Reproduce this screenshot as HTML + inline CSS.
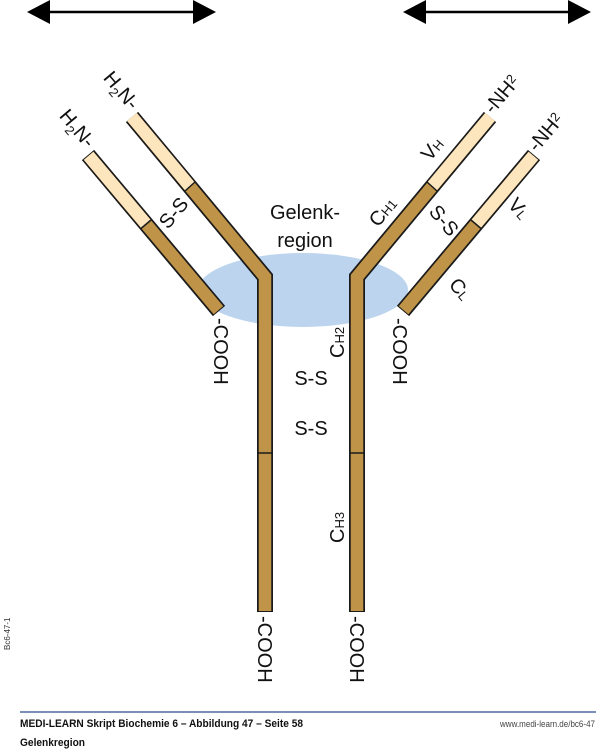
<!DOCTYPE html>
<html><head><meta charset="utf-8"><style>
html,body{margin:0;padding:0;background:#fff;}
svg{display:block;font-family:"Liberation Sans",sans-serif;}
</style></head><body>
<svg width="600" height="752" viewBox="0 0 600 752">
<!-- arrows -->
<line x1="40" y1="12" x2="200" y2="12" stroke="#000" stroke-width="2.5"/>
<polygon points="27,12 50,0 50,24" fill="#000"/>
<polygon points="216,12 193,0 193,24" fill="#000"/>
<line x1="415" y1="12" x2="578" y2="12" stroke="#000" stroke-width="2.5"/>
<polygon points="403,12 426,0 426,24" fill="#000"/>
<polygon points="591,12 568,0 568,24" fill="#000"/>
<!-- ellipse -->
<ellipse cx="303" cy="290" rx="105" ry="37" fill="#bcd4ee"/>
<!-- heavy chains -->
<g stroke-linejoin="miter" stroke-linecap="butt" fill="none">
<polyline points="132,117 265,277 265,612" stroke="#1a1a1a" stroke-width="16"/>
<polyline points="132,117 265,277 265,611" stroke="#c09448" stroke-width="12.5"/>
<line x1="132" y1="117" x2="190" y2="186.5" stroke="#fde5bd" stroke-width="12.5"/>
<polyline points="490,117 357,277 357,612" stroke="#1a1a1a" stroke-width="16"/>
<polyline points="490,117 357,277 357,611" stroke="#c09448" stroke-width="12.5"/>
<line x1="490" y1="117" x2="432" y2="186.5" stroke="#fde5bd" stroke-width="12.5"/>
<!-- light chains -->
<line x1="88" y1="155" x2="219" y2="311" stroke="#1a1a1a" stroke-width="16"/>
<line x1="88.6" y1="155.8" x2="218.4" y2="310.2" stroke="#c09448" stroke-width="12.5"/>
<line x1="88.6" y1="155.8" x2="146" y2="224" stroke="#fde5bd" stroke-width="12.5"/>
<line x1="534" y1="155" x2="403" y2="311" stroke="#1a1a1a" stroke-width="16"/>
<line x1="533.4" y1="155.8" x2="403.6" y2="310.2" stroke="#c09448" stroke-width="12.5"/>
<line x1="533.4" y1="155.8" x2="476" y2="224" stroke="#fde5bd" stroke-width="12.5"/>
</g>
<g stroke="#1a1a1a" stroke-width="1.5">
<line x1="258" y1="453" x2="272" y2="453"/>
<line x1="350" y1="453" x2="364" y2="453"/>
<line x1="185" y1="191" x2="195" y2="182"/>
<line x1="437" y1="191" x2="427" y2="182"/>
<line x1="141" y1="228.5" x2="151" y2="220"/>
<line x1="481" y1="228.5" x2="471" y2="220"/>
</g>
<!-- labels -->
<g font-size="20" fill="#111">
<text x="305" y="219" text-anchor="middle">Gelenk-</text>
<text x="305" y="247" text-anchor="middle">region</text>
<text x="311" y="385" text-anchor="middle">S-S</text>
<text x="311" y="435" text-anchor="middle">S-S</text>
<text transform="translate(344,358) rotate(-90)">C<tspan font-size="13">H2</tspan></text>
<text transform="translate(344,543) rotate(-90)">C<tspan font-size="13">H3</tspan></text>
<text transform="translate(258,616) rotate(90)">-COOH</text>
<text transform="translate(350,616) rotate(90)">-COOH</text>
<text transform="translate(214,318) rotate(90)">-COOH</text>
<text transform="translate(393,318) rotate(90)">-COOH</text>
<text transform="translate(130,111) rotate(50)" text-anchor="end">H<tspan font-size="13" dy="5">2</tspan><tspan dy="-5">N-</tspan></text>
<text transform="translate(86,149) rotate(50)" text-anchor="end">H<tspan font-size="13" dy="5">2</tspan><tspan dy="-5">N-</tspan></text>
<text transform="translate(493,115) rotate(-50)">-NH<tspan font-size="13" dy="-5">2</tspan></text>
<text transform="translate(537,153) rotate(-50)">-NH<tspan font-size="13" dy="-5">2</tspan></text>
<text transform="translate(168,230) rotate(-50)">S-S</text>
<text transform="translate(428,212) rotate(50)">S-S</text>
<text transform="translate(430,162) rotate(-50)">V<tspan font-size="13">H</tspan></text>
<text transform="translate(378,228) rotate(-50)">C<tspan font-size="13">H1</tspan></text>
<text transform="translate(507,205) rotate(50)">V<tspan font-size="13">L</tspan></text>
<text transform="translate(448,285) rotate(50)">C<tspan font-size="13">L</tspan></text>
</g>
<text transform="translate(10,650) rotate(-90)" font-size="8" fill="#333">Bc6-47-1</text>
<line x1="20" y1="712" x2="596" y2="712" stroke="#2b4f8a" stroke-width="1.2"/>
<text x="20" y="727" font-size="11" font-weight="bold" fill="#111" textLength="283" lengthAdjust="spacingAndGlyphs">MEDI-LEARN Skript Biochemie 6 – Abbildung 47 – Seite 58</text>
<text x="20" y="746" font-size="11" font-weight="bold" fill="#111" textLength="65" lengthAdjust="spacingAndGlyphs">Gelenkregion</text>
<text x="500" y="727" font-size="9.5" fill="#444" textLength="95" lengthAdjust="spacingAndGlyphs">www.medi-learn.de/bc6-47</text>
</svg>
</body></html>
